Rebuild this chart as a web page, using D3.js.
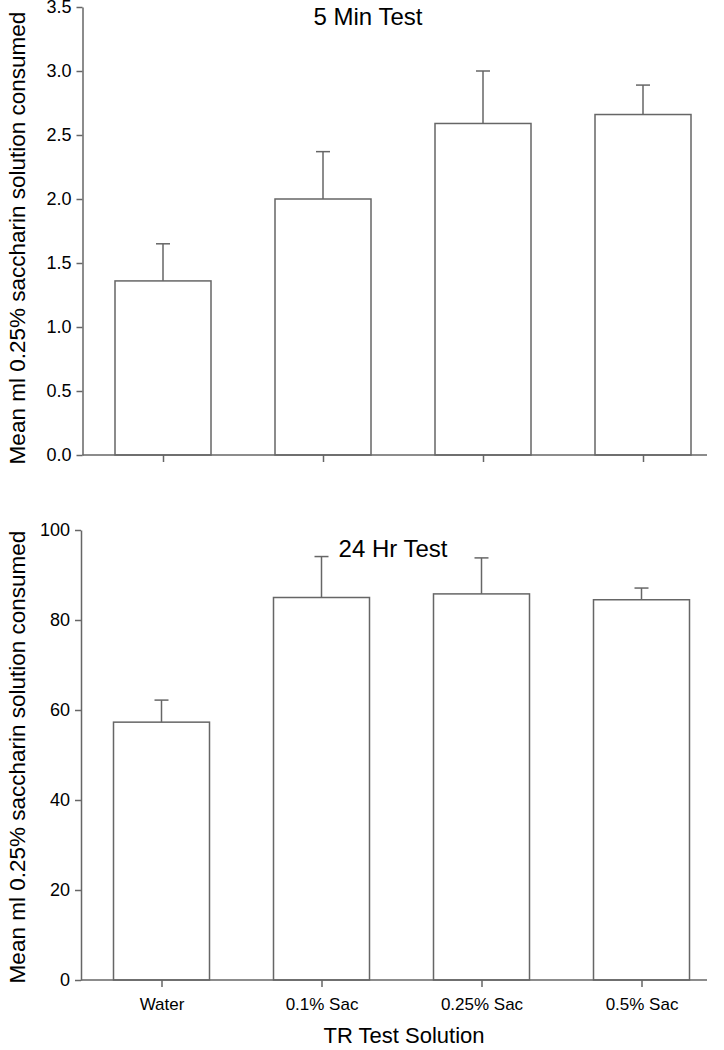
<!DOCTYPE html>
<html>
<head>
<meta charset="utf-8">
<script src="https://cdn.jsdelivr.net/npm/d3@7"></script>
<style>
  body { margin: 0; background: #fff; }
  text { font-family: "Liberation Sans", Arial, Helvetica, sans-serif; fill: #000; }
</style>
</head>
<body>
<div id="chart"></div>
<script>
// Data
var categories = ["Water", "0.1% Sac", "0.25% Sac", "0.5% Sac"];

var min5Means = [1.36, 2.00, 2.59, 2.66];
var min5Err   = [0.29, 0.37, 0.41, 0.23];
var min5Ticks = [0, 0.5, 1.0, 1.5, 2.0, 2.5, 3.0, 3.5];

var hr24Means = [57.3, 85.0, 85.8, 84.5];
var hr24Err   = [4.9, 9.1, 8.0, 2.6];
var hr24Ticks = [0, 20, 40, 60, 80, 100];

var yTitle = "Mean ml 0.25% saccharin solution consumed";
var xTitle = "TR Test Solution";

var width = 724, height = 1050;
var lineColor = "#666";
var barW = 96;

var svg = d3.select("#chart").append("svg")
    .attr("width", width)
    .attr("height", height);

// one panel = one bar chart with upper error bars
function drawPanel(p) {
  var g = svg.append("g");

  var y = d3.scaleLinear()
      .domain([0, p.max])
      .range([p.bottom, p.top]);

  var x = d3.scalePoint()
      .domain(categories)
      .range([p.left + 80.5, p.left + 80.5 + 480]);

  var rows = categories.map(function(c, i) {
    return { name: c, mean: p.means[i], err: p.errs[i] };
  });

  // bars
  g.selectAll("rect.bar")
      .data(rows)
      .enter().append("rect")
      .attr("class", "bar")
      .attr("x", function(d) { return x(d.name) - barW / 2; })
      .attr("y", function(d) { return y(d.mean); })
      .attr("width", barW)
      .attr("height", function(d) { return y(0) - y(d.mean); })
      .style("fill", "#fff")
      .style("stroke", lineColor)
      .style("stroke-width", 1.5);

  // error bars (upper only)
  g.selectAll("line.err")
      .data(rows)
      .enter().append("line")
      .attr("class", "err")
      .attr("x1", function(d) { return x(d.name); })
      .attr("x2", function(d) { return x(d.name); })
      .attr("y1", function(d) { return y(d.mean); })
      .attr("y2", function(d) { return y(d.mean + d.err); })
      .style("stroke", lineColor)
      .style("stroke-width", 1.5);

  g.selectAll("line.cap")
      .data(rows)
      .enter().append("line")
      .attr("class", "cap")
      .attr("x1", function(d) { return x(d.name) - 7; })
      .attr("x2", function(d) { return x(d.name) + 7; })
      .attr("y1", function(d) { return y(d.mean + d.err); })
      .attr("y2", function(d) { return y(d.mean + d.err); })
      .style("stroke", lineColor)
      .style("stroke-width", 1.5);

  // y axis
  var yAxis = g.append("g")
      .attr("transform", "translate(" + p.left + ",0)")
      .call(d3.axisLeft(y)
        .tickValues(p.ticks)
        .tickFormat(d3.format(p.fmt))
        .tickSize(6)
        .tickSizeOuter(0)
        .tickPadding(5));
  yAxis.selectAll("path, line").style("stroke", lineColor).style("stroke-width", 1.5);
  yAxis.selectAll("text").style("font-size", "18px").style("fill", "#000");

  // x axis
  var xAxis = g.append("g")
      .attr("transform", "translate(0," + p.bottom + ")")
      .call(d3.axisBottom(x)
        .tickSize(7)
        .tickPadding(11)
        .tickFormat(p.xLabels ? null : ""));
  xAxis.select(".domain").remove();
  xAxis.append("line")
      .attr("x1", p.left)
      .attr("x2", p.right);
  xAxis.selectAll("line").style("stroke", lineColor).style("stroke-width", 1.5);
  xAxis.selectAll("text").style("font-size", "17px").style("fill", "#000");

  // panel title
  g.append("text")
      .attr("x", p.titleX)
      .attr("y", p.titleY)
      .attr("text-anchor", "middle")
      .style("font-size", "24px")
      .text(p.title);

  // y title
  g.append("text")
      .attr("transform", "translate(25," + p.yTitleY + ") rotate(-90)")
      .attr("text-anchor", "middle")
      .style("font-size", "22.5px")
      .text(yTitle);
}

drawPanel({
  means: min5Means, errs: min5Err, ticks: min5Ticks, max: 3.5, fmt: ".1f",
  left: 82.5, right: 707, top: 7, bottom: 455,
  title: "5 Min Test", titleX: 368, titleY: 25, yTitleY: 238, xLabels: false
});

drawPanel({
  means: hr24Means, errs: hr24Err, ticks: hr24Ticks, max: 100, fmt: "d",
  left: 81, right: 707, top: 530, bottom: 980,
  title: "24 Hr Test", titleX: 393, titleY: 557, yTitleY: 757, xLabels: true
});

// x axis title
svg.append("text")
    .attr("x", 404)
    .attr("y", 1043)
    .attr("text-anchor", "middle")
    .style("font-size", "22px")
    .text(xTitle);
</script>
</body>
</html>
